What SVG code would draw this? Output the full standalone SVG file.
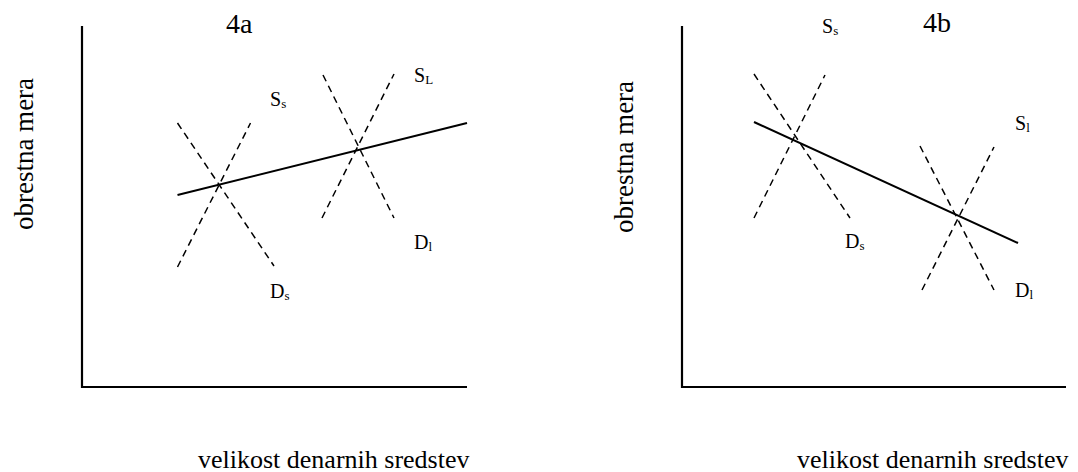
<svg xmlns="http://www.w3.org/2000/svg" width="1078" height="472" viewBox="0 0 1078 472" font-family="'Liberation Serif', 'DejaVu Serif', serif">
<style>
.t{font-family:'Liberation Serif','DejaVu Serif',serif;fill:#000}
.axis{stroke:#000;stroke-width:2.2;fill:none}
.solid{stroke:#000;stroke-width:2;fill:none}
.dash{stroke:#000;stroke-width:1.5;stroke-dasharray:7 5;fill:none}
.title{font-size:28px}
.ylab{font-size:27px;text-anchor:middle}
.xlab{font-size:26px}
.lab{font-size:20px}
.sub{font-size:13px}
</style>
<rect width="1078" height="472" fill="#fff"/>
<g id="panel-4a">
  <g id="axes-4a">
    <polyline class="axis" points="82,26 82,387 467,387"/>
  </g>
  <text id="title-4a" class="t title" x="226" y="33">4a</text>
  <text id="ylabel-4a" class="t ylab" transform="translate(33,154) rotate(-90)">obrestna mera</text>
  <text id="xlabel-4a" class="t xlab" x="198" y="468">velikost denarnih sredstev</text>
  <g id="connectors-4a">
    <line class="solid" x1="177.5" y1="195" x2="467" y2="123"/>
    <line class="dash" x1="177.5" y1="267" x2="250.5" y2="123"/>
    <line class="dash" x1="177.5" y1="123" x2="274" y2="266"/>
    <line class="dash" x1="322" y1="218" x2="394" y2="74"/>
    <line class="dash" x1="323" y1="75" x2="394" y2="218"/>
  </g>
  <g id="label-Ss-4a"><text class="t lab" x="270" y="106">S<tspan class="sub" dy="2">s</tspan></text></g>
  <g id="label-SL-4a"><text class="t lab" x="414" y="82">S<tspan class="sub" dy="2">L</tspan></text></g>
  <g id="label-Dl-4a"><text class="t lab" x="414" y="249">D<tspan class="sub" dy="2">l</tspan></text></g>
  <g id="label-Ds-4a"><text class="t lab" x="270" y="298">D<tspan class="sub" dy="2">s</tspan></text></g>
</g>
<g id="panel-4b">
  <g id="axes-4b">
    <polyline class="axis" points="682,26 682,387 1066,387"/>
  </g>
  <text id="title-4b" class="t title" x="923" y="32">4b</text>
  <text id="ylabel-4b" class="t ylab" transform="translate(633,157) rotate(-90)">obrestna mera</text>
  <text id="xlabel-4b" class="t xlab" x="797" y="468">velikost denarnih sredstev</text>
  <g id="connectors-4b">
    <line class="solid" x1="754" y1="122" x2="1018" y2="243"/>
    <line class="dash" x1="754" y1="218" x2="825" y2="75"/>
    <line class="dash" x1="754" y1="74" x2="850" y2="218"/>
    <line class="dash" x1="922" y1="290" x2="994" y2="147"/>
    <line class="dash" x1="920" y1="146" x2="994" y2="290"/>
  </g>
  <g id="label-Ss-4b"><text class="t lab" x="822" y="33">S<tspan class="sub" dy="2">s</tspan></text></g>
  <g id="label-Sl-4b"><text class="t lab" x="1015" y="130">S<tspan class="sub" dy="2">l</tspan></text></g>
  <g id="label-Ds-4b"><text class="t lab" x="845" y="248">D<tspan class="sub" dy="2">s</tspan></text></g>
  <g id="label-Dl-4b"><text class="t lab" x="1015" y="297">D<tspan class="sub" dy="2">l</tspan></text></g>
</g>
</svg>
